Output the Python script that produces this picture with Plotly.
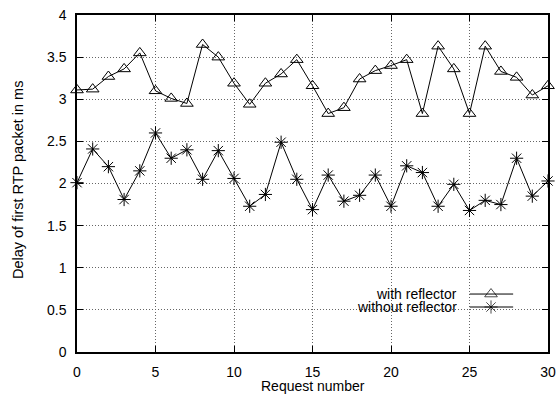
import plotly.graph_objects as go

requests = list(range(31))
with_reflector = [3.11, 3.12, 3.27, 3.36, 3.55, 3.10, 3.01, 2.95, 3.65, 3.50,
                  3.19, 2.94, 3.19, 3.30, 3.47, 3.16, 2.83, 2.90, 3.24, 3.34,
                  3.40, 3.47, 2.83, 3.63, 3.36, 2.83, 3.63, 3.33, 3.26, 3.05, 3.16]
without_reflector = [2.01, 2.41, 2.20, 1.81, 2.15, 2.60, 2.30, 2.40, 2.05, 2.39,
                     2.06, 1.73, 1.87, 2.49, 2.05, 1.69, 2.10, 1.79, 1.86, 2.10,
                     1.73, 2.21, 2.13, 1.73, 1.99, 1.68, 1.80, 1.75, 2.30, 1.85, 2.03]
series_names = ["with reflector", "without reflector"]
x_ticks = [0, 5, 10, 15, 20, 25, 30]
y_ticks = [0, 0.5, 1, 1.5, 2, 2.5, 3, 3.5, 4]
y_tick_labels = ["0", "0.5", "1", "1.5", "2", "2.5", "3", "3.5", "4"]
x_title = "Request number"
y_title = "Delay of first RTP packet in ms"

FONT = "Liberation Sans, Arial, sans-serif"
fig = go.Figure()
symbols = ["triangle-up-open", "asterisk-open"]
sizes = [11, 11]
for name, vals, sym, sz in zip(series_names, [with_reflector, without_reflector], symbols, sizes):
    fig.add_trace(go.Scatter(
        x=requests, y=vals, mode="lines+markers", name=name,
        line=dict(color="black", width=1),
        marker=dict(symbol=sym, size=sz, color="black", line=dict(color="black", width=1)),
        showlegend=False, cliponaxis=False))

# legend box (white, hides grid) and keys (gnuplot style: text left, sample right)
fig.add_shape(type="rect", xref="paper", yref="paper", x0=0.507, x1=0.938, y0=0.116, y1=0.193,
              fillcolor="white", line=dict(width=0), layer="between")
leg_y = [0.172, 0.1335]
for name, sym, sz, ly in zip(series_names, symbols, sizes, leg_y):
    fig.add_trace(go.Scatter(
        x=[0.834, 0.879, 0.926], y=[ly, ly, ly], xaxis="x2", yaxis="y2",
        mode="lines+markers", line=dict(color="black", width=1),
        marker=dict(symbol=sym, size=[0, sz, 0], color="black", line=dict(color="black", width=1)),
        showlegend=False, hoverinfo="skip"))
    fig.add_annotation(x=0.809, y=ly, xref="paper", yref="paper", text=name,
                       showarrow=False, xanchor="right", yanchor="middle",
                       height=12, valign="middle", borderpad=0,
                       font=dict(family=FONT, size=14, color="black"))

# axis titles
fig.add_annotation(x=0.5, y=-0.101, xref="paper", yref="paper", text=x_title,
                   showarrow=False, xanchor="center", yanchor="middle",
                   font=dict(family=FONT, size=14, color="black"))
fig.add_annotation(x=-0.124, y=0.512, xref="paper", yref="paper", text=y_title,
                   showarrow=False, xanchor="center", yanchor="middle", textangle=-90,
                   font=dict(family=FONT, size=14.5, color="black"))

axis_common = dict(showgrid=True, gridcolor="#666666", griddash="1px,2px", gridwidth=1,
                   showline=True, linecolor="black", linewidth=1.5, mirror="ticks",
                   ticks="inside", ticklen=6, tickcolor="black", tickwidth=1,
                   zeroline=False, automargin=False,
                   tickfont=dict(family=FONT, size=14, color="black"))
fig.update_layout(
    width=558, height=395, margin=dict(l=77, r=10, t=15, b=43),
    plot_bgcolor="white", paper_bgcolor="white",
    xaxis=dict(range=[0, 30], tickvals=x_ticks, ticklabelstandoff=6, **axis_common),
    yaxis=dict(range=[0, 4], tickvals=y_ticks, ticktext=y_tick_labels, ticklabelstandoff=6,
               **axis_common),
    xaxis2=dict(range=[0, 1], overlaying="x", visible=False),
    yaxis2=dict(range=[0, 1], overlaying="y", visible=False),
)
fig.write_html("out.html")
